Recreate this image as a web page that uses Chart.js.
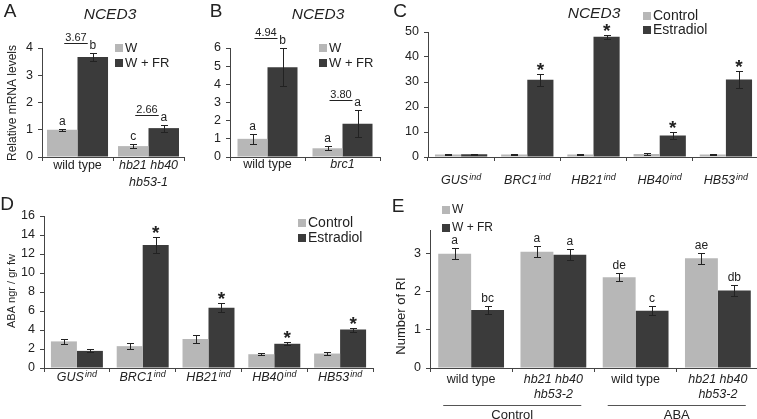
<!DOCTYPE html>
<html>
<head>
<meta charset="utf-8">
<script src="https://cdn.jsdelivr.net/npm/chart.js@4.4.1/dist/chart.umd.min.js"></script>
<style>
  html, body { margin: 0; padding: 0; background: #fff; overflow: hidden; }
  body { position: relative; width: 757px; height: 419px; }
  canvas { position: absolute; }
</style>
</head>
<body>
<canvas id="panelA"></canvas>
<canvas id="panelB"></canvas>
<canvas id="panelC"></canvas>
<canvas id="panelD"></canvas>
<canvas id="panelE"></canvas>
<script>
// ---- data ----
const lightNames = ['W', 'W + FR'];
const inducedNames = ['Control', 'Estradiol'];

// A: NCED3, wild type vs triple mutant
const aCategories = [['wild type'], ['hb21 hb40', 'hb53-1']];
const aW = [1.0, 0.40];
const aWErr = [0.03, 0.06];
const aWFR = [3.67, 1.06];
const aWFRErr = [0.14, 0.13];
const aWMarks = ['a', 'c'];
const aWFRMarks = ['b', 'a'];
const aRatios = ['3.67', '2.66'];

// B: NCED3, wild type vs brc1
const bCategories = [['wild type'], ['brc1']];
const bW = [1.0, 0.48];
const bWErr = [0.28, 0.12];
const bWFR = [4.94, 1.83];
const bWFRErr = [1.05, 0.75];
const bWMarks = ['a', 'a'];
const bWFRMarks = ['b', 'a'];
const bRatios = ['4.94', '3.80'];

// C and D: inducible lines
const indLines = ['GUS', 'BRC1', 'HB21', 'HB40', 'HB53'];
const indSuffix = 'ind';
const cControl = [1.0, 1.0, 1.0, 1.2, 1.0];
const cControlErr = [0.1, 0.2, 0.1, 0.3, 0.1];
const cEstradiol = [1.1, 30.9, 48.1, 8.6, 31.0];
const cEstradiolErr = [0.2, 2.4, 0.9, 1.4, 3.5];
const cMarks = ['', '*', '*', '*', '*'];

const dControl = [2.8, 2.3, 3.05, 1.45, 1.52];
const dControlErr = [0.3, 0.35, 0.4, 0.1, 0.12];
const dEstradiol = [1.8, 12.95, 6.35, 2.55, 4.05];
const dEstradiolErr = [0.15, 0.8, 0.44, 0.14, 0.21];
const dMarks = ['', '*', '*', '*', '*'];

// E: number of RI
const eCategories = [['wild type'], ['hb21 hb40', 'hb53-2'], ['wild type'], ['hb21 hb40', 'hb53-2']];
const eGroups = ['Control', 'ABA'];
const eW = [3.0, 3.05, 2.38, 2.88];
const eWErr = [0.14, 0.15, 0.11, 0.14];
const eWFR = [1.52, 2.97, 1.50, 2.03];
const eWFRErr = [0.1, 0.15, 0.12, 0.14];
const eWMarks = ['a', 'a', 'de', 'ae'];
const eWFRMarks = ['bc', 'a', 'c', 'db'];

// ---- style ----
const FONT = '"Liberation Sans", Arial, sans-serif';
const LIGHT = '#b7b7b7';
const DARK = '#3b3b3b';
const INK = '#222';
const AXIS = '#444';

function drawCategory(ctx, lines, x, y, italic, sup, lh) {
    lines.forEach((t, k) => {
        const yy = y + k * lh;
        ctx.font = (italic ? 'italic ' : '') + '12.5px ' + FONT;
        if (sup) {
            const w1 = ctx.measureText(t).width;
            ctx.font = 'italic 9px ' + FONT;
            const w2 = ctx.measureText(sup).width;
            const x0 = x - (w1 + w2 + 1) / 2;
            ctx.textAlign = 'left';
            ctx.font = 'italic 12.5px ' + FONT;
            ctx.fillText(t, x0, yy);
            ctx.font = 'italic 9px ' + FONT;
            ctx.fillText(sup, x0 + w1 + 1, yy - 4);
        } else {
            ctx.textAlign = 'center';
            ctx.fillText(t, x, yy);
        }
    });
}

// extra drawing: error bars, letters, brackets, labels, legend, titles
function overlay(p) {
    return {
        id: 'overlay',
        afterDraw(chart) {
            const ctx = chart.ctx;
            const xs = chart.scales.x, ys = chart.scales.y;
            const ox = p.box[0], oy = p.box[1];
            const tops = [];
            ctx.save();
            ctx.fillStyle = INK;
            ctx.strokeStyle = INK;
            ctx.lineWidth = 1;
            ctx.textBaseline = 'middle';

            p.series.forEach((s, d) => {
                chart.getDatasetMeta(d).data.forEach((bar, i) => {
                    const x = Math.round(bar.x) + 0.5;
                    const hi = Math.round(ys.getPixelForValue(s.values[i] + s.errors[i])) + 0.5;
                    const lo = Math.round(ys.getPixelForValue(s.values[i] - s.errors[i])) + 0.5;
                    ctx.beginPath();
                    ctx.moveTo(x, hi); ctx.lineTo(x, lo);
                    ctx.moveTo(x - 3.5, hi); ctx.lineTo(x + 3.5, hi);
                    ctx.moveTo(x - 3.5, lo); ctx.lineTo(x + 3.5, lo);
                    ctx.stroke();
                    const mark = s.marks ? s.marks[i] : '';
                    ctx.textAlign = 'center';
                    if (mark === '*') {
                        ctx.font = 'bold 19px ' + FONT;
                        ctx.textBaseline = 'alphabetic';
                        ctx.fillText('*', bar.x, hi + 1);
                        ctx.textBaseline = 'middle';
                    } else if (mark) {
                        ctx.font = '12px ' + FONT;
                        ctx.fillText(mark, bar.x, hi - 8);
                    }
                    (tops[i] = tops[i] || []).push({ x: bar.x, y: hi });
                });
            });

            if (p.ratios) {
                p.ratios.forEach((r, i) => {
                    const [a, b] = tops[i];
                    const y = Math.round(Math.min(a.y, b.y) - 11) + 0.5;
                    const x1 = a.x + 2, x2 = b.x - 5;
                    ctx.beginPath();
                    ctx.moveTo(x1, y); ctx.lineTo(x2, y);
                    ctx.stroke();
                    ctx.font = '11px ' + FONT;
                    ctx.textAlign = 'center';
                    ctx.fillText(r, (x1 + x2) / 2, y - 6);
                });
            }

            // category labels under the axis
            ctx.fillStyle = INK;
            const base = chart.chartArea.bottom;
            p.categories.forEach((lines, i) => {
                drawCategory(ctx, lines, xs.getPixelForValue(i), base + p.labelOffset,
                    p.italic[i], p.sup, p.lineHeight);
            });

            // group brackets under categories
            if (p.groups) {
                const half = (xs.getPixelForValue(1) - xs.getPixelForValue(0)) / 2 * p.catPct;
                p.groups.forEach((g, k) => {
                    const x1 = xs.getPixelForValue(k * 2) - half + 5;
                    const x2 = xs.getPixelForValue(k * 2 + 1) + half - 5;
                    const y = p.groupLineY - oy + 0.5;
                    ctx.strokeStyle = '#555';
                    ctx.beginPath();
                    ctx.moveTo(x1, y); ctx.lineTo(x2, y);
                    ctx.stroke();
                    ctx.font = '13px ' + FONT;
                    ctx.textAlign = 'center';
                    ctx.fillText(g, (x1 + x2) / 2, p.groupTextY - oy);
                });
            }

            // legend
            const lg = p.legend;
            chart.data.datasets.forEach((ds, k) => {
                const y = lg.y - oy + k * lg.dy;
                ctx.fillStyle = ds.backgroundColor;
                ctx.fillRect(lg.x - ox, Math.round(y - 4), 8, 8);
                ctx.fillStyle = INK;
                ctx.font = lg.size + 'px ' + FONT;
                ctx.textAlign = 'left';
                ctx.fillText(ds.label, lg.x - ox + 10, y);
            });

            // panel letter, title, y title
            ctx.textAlign = 'center';
            ctx.font = '19px ' + FONT;
            ctx.fillText(p.letter.text, p.letter.x - ox, p.letter.y - oy);
            if (p.title) {
                ctx.font = 'italic 15.5px ' + FONT;
                ctx.fillText(p.title.text, p.title.x - ox, p.title.y - oy);
            }
            if (p.yTitle) {
                ctx.save();
                ctx.translate(p.yTitle.x - ox, p.yTitle.y - oy);
                ctx.rotate(-Math.PI / 2);
                ctx.font = p.yTitle.size + 'px ' + FONT;
                ctx.fillText(p.yTitle.text, 0, 0);
                ctx.restore();
            }
            ctx.restore();
        }
    };
}

function makePanel(id, p) {
    const canvas = document.getElementById(id);
    const [bx, by, bw, bh] = p.box;
    const [al, at, ar, ab] = p.area;
    canvas.width = bw;
    canvas.height = bh;
    canvas.style.left = bx + 'px';
    canvas.style.top = by + 'px';
    const yWidth = al - bx;
    const xHeight = by + bh - ab;

    return new Chart(canvas, {
        type: 'bar',
        data: {
            labels: p.categories.map(c => c.join(' ')),
            datasets: p.series.map(s => ({
                label: s.name,
                data: s.values,
                backgroundColor: s.color,
                borderWidth: 0,
                barPercentage: 1,
                categoryPercentage: p.catPct
            }))
        },
        options: {
            responsive: false,
            animation: false,
            events: [],
            layout: { padding: { left: 0, top: at - by, right: bx + bw - ar, bottom: 0 } },
            plugins: { legend: { display: false }, tooltip: { enabled: false } },
            scales: {
                x: {
                    ticks: { display: false },
                    grid: { drawOnChartArea: false, color: AXIS, tickLength: 4 },
                    border: { color: AXIS },
                    afterFit: s => { s.height = xHeight; }
                },
                y: {
                    min: 0,
                    max: p.max,
                    ticks: {
                        stepSize: p.step,
                        includeBounds: false,
                        autoSkip: false,
                        color: INK,
                        padding: 5,
                        font: { family: FONT, size: 12.5 }
                    },
                    grid: { drawOnChartArea: false, color: AXIS, tickLength: 4 },
                    border: { color: AXIS },
                    afterFit: s => { s.width = yWidth; }
                }
            }
        },
        plugins: [overlay(p)]
    });
}

makePanel('panelA', {
    box: [0, 0, 190, 195], area: [42, 48, 184, 157], max: 4, step: 1, catPct: 0.86,
    categories: aCategories, italic: [false, true], labelOffset: 9, lineHeight: 17,
    series: [
        { name: lightNames[0], values: aW, errors: aWErr, marks: aWMarks, color: LIGHT },
        { name: lightNames[1], values: aWFR, errors: aWFRErr, marks: aWFRMarks, color: DARK }
    ],
    ratios: aRatios,
    legend: { x: 115, y: 48, dy: 15, size: 13 },
    letter: { text: 'A', x: 10, y: 12 },
    title: { text: 'NCED3', x: 110, y: 15 },
    yTitle: { text: 'Relative mRNA levels', x: 13, y: 103, size: 12 }
});

makePanel('panelB', {
    box: [190, 0, 195, 195], area: [230, 48, 380, 157], max: 6, step: 1, catPct: 0.8,
    categories: bCategories, italic: [false, true], labelOffset: 8, lineHeight: 17,
    series: [
        { name: lightNames[0], values: bW, errors: bWErr, marks: bWMarks, color: LIGHT },
        { name: lightNames[1], values: bWFR, errors: bWFRErr, marks: bWFRMarks, color: DARK }
    ],
    ratios: bRatios,
    legend: { x: 319, y: 48, dy: 15, size: 13 },
    letter: { text: 'B', x: 216, y: 12 },
    title: { text: 'NCED3', x: 318, y: 15 }
});

makePanel('panelC', {
    box: [385, 0, 382, 195], area: [428, 32, 759, 157], max: 50, step: 10, catPct: 0.79,
    categories: indLines.map(n => [n]), italic: indLines.map(() => true), sup: indSuffix,
    labelOffset: 24, lineHeight: 15,
    series: [
        { name: inducedNames[0], values: cControl, errors: cControlErr, color: LIGHT },
        { name: inducedNames[1], values: cEstradiol, errors: cEstradiolErr, marks: cMarks, color: DARK }
    ],
    legend: { x: 643, y: 16, dy: 14, size: 14 },
    letter: { text: 'C', x: 400, y: 12 },
    title: { text: 'NCED3', x: 594, y: 14 }
});

makePanel('panelD', {
    box: [0, 195, 390, 224], area: [44, 216, 373, 368], max: 16, step: 2, catPct: 0.79,
    categories: indLines.map(n => [n]), italic: indLines.map(() => true), sup: indSuffix,
    labelOffset: 10, lineHeight: 15,
    series: [
        { name: inducedNames[0], values: dControl, errors: dControlErr, color: LIGHT },
        { name: inducedNames[1], values: dEstradiol, errors: dEstradiolErr, marks: dMarks, color: DARK }
    ],
    legend: { x: 298, y: 223, dy: 15, size: 14 },
    letter: { text: 'D', x: 7, y: 205 },
    yTitle: { text: 'ABA ngr / gr fw', x: 12, y: 291, size: 11 }
});

makePanel('panelE', {
    box: [390, 195, 377, 224], area: [430, 230, 759, 368], max: 3.62, step: 1, catPct: 0.8,
    categories: eCategories, italic: [false, true, false, true], labelOffset: 12, lineHeight: 15,
    series: [
        { name: lightNames[0], values: eW, errors: eWErr, marks: eWMarks, color: LIGHT },
        { name: lightNames[1], values: eWFR, errors: eWFRErr, marks: eWFRMarks, color: DARK }
    ],
    groups: eGroups, groupLineY: 405, groupTextY: 415,
    legend: { x: 442, y: 210, dy: 18, size: 12 },
    letter: { text: 'E', x: 398, y: 207 },
    yTitle: { text: 'Number of RI', x: 401, y: 316, size: 13 }
});
</script>
</body>
</html>
